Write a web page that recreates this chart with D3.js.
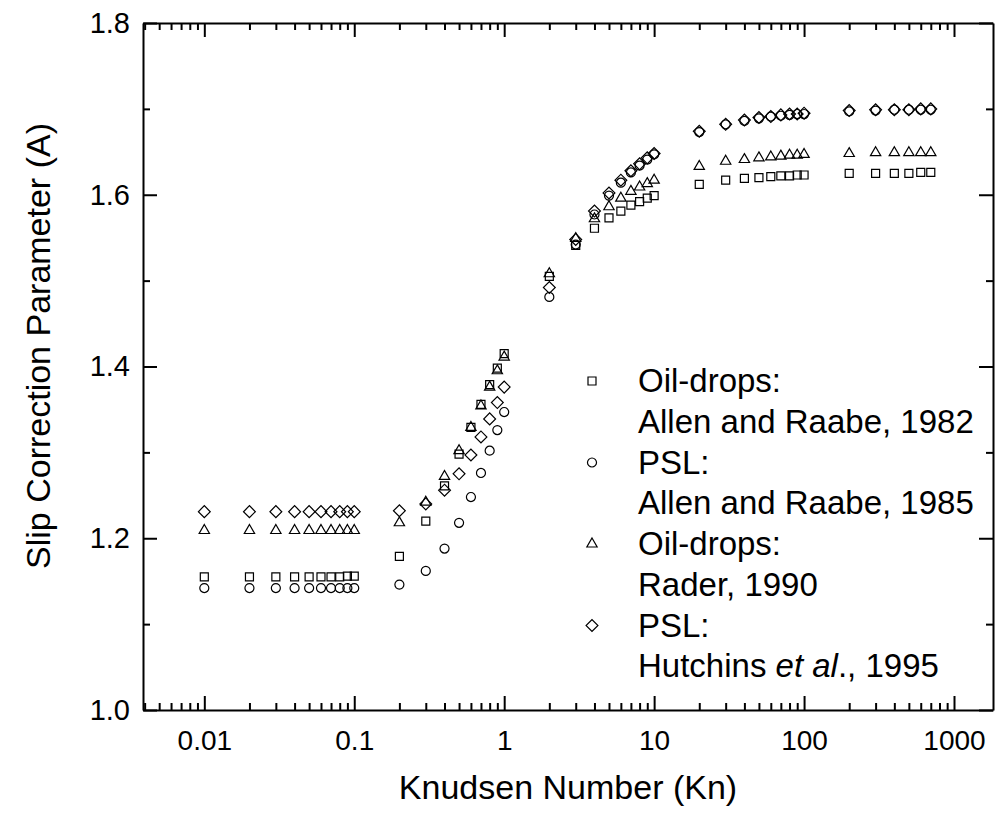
<!DOCTYPE html>
<html>
<head>
<meta charset="utf-8">
<script src="https://cdn.jsdelivr.net/npm/d3@7"></script>
<style>
  body { margin: 0; background: #fff; }
  svg { display: block; font-family: "Liberation Sans", Arial, sans-serif; }
</style>
</head>
<body>
<svg id="chart" width="1000" height="821"></svg>
<script>
// Knudsen numbers where the points sit
const knudsen = [0.01, 0.02, 0.03, 0.04, 0.05, 0.06, 0.07, 0.08, 0.09,
  0.1, 0.2, 0.3, 0.4, 0.5, 0.6, 0.7, 0.8, 0.9,
  1, 2, 3, 4, 5, 6, 7, 8, 9,
  10, 20, 30, 40, 50, 60, 70, 80, 90,
  100, 200, 300, 400, 500, 600, 700];

// Oil-drops: Allen and Raabe, 1982 (squares)
const oilAllen = [1.155, 1.155, 1.155, 1.155, 1.155, 1.155, 1.155, 1.155, 1.156,
  1.156, 1.179, 1.220, 1.261, 1.298, 1.329, 1.356, 1.379, 1.398,
  1.415, 1.505, 1.541, 1.561, 1.573, 1.581, 1.588, 1.592, 1.596,
  1.599, 1.612, 1.617, 1.619, 1.620, 1.621, 1.622, 1.622, 1.623,
  1.623, 1.625, 1.625, 1.625, 1.625, 1.626, 1.626];

// PSL: Allen and Raabe, 1985 (circles)
const pslAllen = [1.142, 1.142, 1.142, 1.142, 1.142, 1.142, 1.142, 1.142, 1.142,
  1.142, 1.146, 1.162, 1.188, 1.218, 1.248, 1.276, 1.302, 1.326,
  1.347, 1.481, 1.542, 1.577, 1.599, 1.614, 1.626, 1.634, 1.641,
  1.647, 1.673, 1.682, 1.686, 1.689, 1.691, 1.692, 1.693, 1.694,
  1.694, 1.697, 1.698, 1.699, 1.699, 1.699, 1.699];

// Oil-drops: Rader, 1990 (triangles)
const oilRader = [1.209, 1.209, 1.209, 1.209, 1.209, 1.209, 1.209, 1.209, 1.209,
  1.209, 1.218, 1.242, 1.272, 1.302, 1.329, 1.354, 1.376, 1.395,
  1.411, 1.508, 1.549, 1.572, 1.586, 1.596, 1.604, 1.609, 1.613,
  1.617, 1.633, 1.639, 1.641, 1.643, 1.644, 1.645, 1.646, 1.646,
  1.647, 1.648, 1.649, 1.649, 1.649, 1.649, 1.649];

// PSL: Hutchins et al., 1995 (diamonds)
const pslHutchins = [1.231, 1.231, 1.231, 1.231, 1.231, 1.231, 1.231, 1.231, 1.231,
  1.231, 1.232, 1.240, 1.256, 1.275, 1.297, 1.318, 1.339, 1.358,
  1.376, 1.492, 1.548, 1.581, 1.602, 1.617, 1.628, 1.636, 1.643,
  1.648, 1.674, 1.682, 1.687, 1.690, 1.691, 1.693, 1.694, 1.694,
  1.695, 1.698, 1.699, 1.699, 1.699, 1.700, 1.700];

const xMajorTicks = [0.01, 0.1, 1, 10, 100, 1000];
const xTickLabels = ["0.01", "0.1", "1", "10", "100", "1000"];
const yMajorTicks = [1.0, 1.2, 1.4, 1.6, 1.8];
const yMinorTicks = [1.1, 1.3, 1.5, 1.7];

const series = [
  { name: "Oil-drops:", ref: "Allen and Raabe, 1982", values: oilAllen, shape: "square" },
  { name: "PSL:", ref: "Allen and Raabe, 1985", values: pslAllen, shape: "circle" },
  { name: "Oil-drops:", ref: "Rader, 1990", values: oilRader, shape: "triangle" },
  { name: "PSL:", ref: "Hutchins", values: pslHutchins, shape: "diamond" }
];

const svg = d3.select("#chart");
const margin = { left: 143, right: 993, top: 23, bottom: 710 };

const x = d3.scaleLog().domain([0.0039, 1820]).range([margin.left, margin.right]);
const y = d3.scaleLinear().domain([1.0, 1.8]).range([margin.bottom, margin.top]);

// minor ticks on the log axis: 2..9 times each decade, inside the domain
const xMinorTicks = [];
[0.001, 0.01, 0.1, 1, 10, 100, 1000].forEach(d => {
  for (let k = 2; k <= 9; k++) {
    const v = d * k;
    if (v > x.domain()[0] && v < x.domain()[1]) xMinorTicks.push(v);
  }
});

const majorLen = 14, minorLen = 7;

function styleAxis(g) {
  g.selectAll("path, line").attr("stroke", "#000").attr("stroke-width", 2);
  g.selectAll("text").attr("fill", "#000");
}

// minor ticks (all four sides)
svg.append("g").attr("transform", `translate(0,${margin.bottom})`)
  .call(d3.axisBottom(x).tickValues(xMinorTicks).tickSize(-minorLen).tickFormat(""))
  .call(g => g.select(".domain").remove()).call(styleAxis);
svg.append("g").attr("transform", `translate(0,${margin.top})`)
  .call(d3.axisTop(x).tickValues(xMinorTicks).tickSize(-minorLen).tickFormat(""))
  .call(g => g.select(".domain").remove()).call(styleAxis);
svg.append("g").attr("transform", `translate(${margin.left},0)`)
  .call(d3.axisLeft(y).tickValues(yMinorTicks).tickSize(-minorLen).tickFormat(""))
  .call(g => g.select(".domain").remove()).call(styleAxis);
svg.append("g").attr("transform", `translate(${margin.right},0)`)
  .call(d3.axisRight(y).tickValues(yMinorTicks).tickSize(-minorLen).tickFormat(""))
  .call(g => g.select(".domain").remove()).call(styleAxis);

// major ticks + frame
svg.append("g").attr("transform", `translate(0,${margin.bottom})`)
  .call(d3.axisBottom(x).tickValues(xMajorTicks).tickSize(-majorLen).tickSizeOuter(0)
    .tickPadding(20).tickFormat((d, i) => xTickLabels[i]))
  .call(styleAxis)
  .selectAll("text").attr("font-size", 28).attr("font-family", "Liberation Sans, Arial, sans-serif");
svg.append("g").attr("transform", `translate(0,${margin.top})`)
  .call(d3.axisTop(x).tickValues(xMajorTicks).tickSize(-majorLen).tickSizeOuter(0).tickFormat(""))
  .call(styleAxis);
svg.append("g").attr("transform", `translate(${margin.left},0)`)
  .call(d3.axisLeft(y).tickValues(yMajorTicks).tickSize(-majorLen).tickSizeOuter(0)
    .tickPadding(13).tickFormat(d3.format(".1f")))
  .call(styleAxis)
  .selectAll("text").attr("font-size", 29).attr("font-family", "Liberation Sans, Arial, sans-serif");
svg.append("g").attr("transform", `translate(${margin.right},0)`)
  .call(d3.axisRight(y).tickValues(yMajorTicks).tickSize(-majorLen).tickSizeOuter(0).tickFormat(""))
  .call(styleAxis);

// axis titles
svg.append("text")
  .attr("x", (margin.left + margin.right) / 2).attr("y", 799)
  .attr("text-anchor", "middle").attr("font-size", 34)
  .text("Knudsen Number (Kn)");
svg.append("text")
  .attr("transform", "translate(38,346) rotate(-90)")
  .attr("text-anchor", "middle").attr("dy", "0.35em").attr("font-size", 34)
  .text("Slip Correction Parameter (A)");

// symbol generators
const shapes = {
  square: d3.symbol(d3.symbolSquare, 64)(),
  circle: d3.symbol(d3.symbolCircle, 64)(),
  triangle: d3.symbol(d3.symbolTriangle, 46)(),
  diamond: d3.symbol(d3.symbolSquare, 70)()
};
const rot = s => s === "diamond" ? " rotate(45)" : "";

// points
series.forEach(s => {
  svg.append("g").selectAll("path")
    .data(knudsen.map((k, i) => ({ k, v: s.values[i] })))
    .enter().append("path")
    .attr("d", shapes[s.shape])
    .attr("transform", d => `translate(${x(d.k)},${y(d.v)})${rot(s.shape)}`)
    .attr("fill", "none").attr("stroke", "#000").attr("stroke-width", 1.2);
});

// legend
const legend = svg.append("g").attr("transform", "translate(592,381)");
series.forEach((s, i) => {
  const g = legend.append("g").attr("transform", `translate(0,${i * 81.5})`);
  g.append("path").attr("d", shapes[s.shape])
    .attr("transform", "scale(1)" + rot(s.shape))
    .attr("fill", "none").attr("stroke", "#000").attr("stroke-width", 1.2);
  g.append("text").attr("x", 46).attr("y", 11).attr("font-size", 33).text(s.name);
  const t = g.append("text").attr("x", 46).attr("y", 51.5).attr("font-size", 33);
  if (s.shape === "diamond") {
    t.append("tspan").text("Hutchins ");
    t.append("tspan").attr("font-style", "italic").text("et al");
    t.append("tspan").text("., 1995");
  } else {
    t.text(s.ref);
  }
});
</script>
</body>
</html>
